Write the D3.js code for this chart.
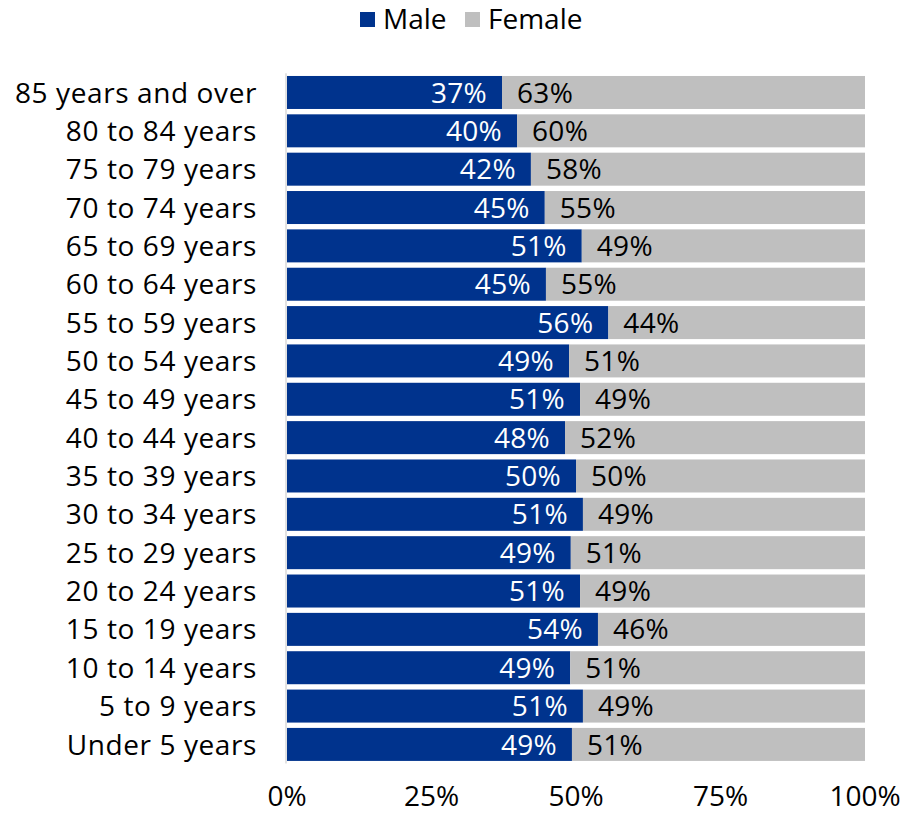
<!DOCTYPE html>
<html><head><meta charset="utf-8">
<script src="https://cdn.jsdelivr.net/npm/d3@7"></script>
<style>
body{margin:0;background:#fff;}
svg text{font-family:"Open Sans",sans-serif;}
</style></head>
<body><svg id="c" width="904" height="814"></svg>
<script>
const categories = ["85 years and over","80 to 84 years","75 to 79 years","70 to 74 years","65 to 69 years","60 to 64 years","55 to 59 years","50 to 54 years","45 to 49 years","40 to 44 years","35 to 39 years","30 to 34 years","25 to 29 years","20 to 24 years","15 to 19 years","10 to 14 years","5 to 9 years","Under 5 years"];
const male = [37.2,39.8,42.2,44.6,51.0,44.8,55.6,48.8,50.7,48.1,50.0,51.2,49.1,50.7,53.8,49.0,51.2,49.3];
const female = male.map(m => 100 - m);
const maleLabels = ["37%","40%","42%","45%","51%","45%","56%","49%","51%","48%","50%","51%","49%","51%","54%","49%","51%","49%"];
const femaleLabels = ["63%","60%","58%","55%","49%","55%","44%","51%","49%","52%","50%","49%","51%","49%","46%","51%","49%","51%"];
const ticks = [0,25,50,75,100];
const tickLabels = ["0%","25%","50%","75%","100%"];
const seriesNames = ["Male","Female"];
const colors = ["#00338d","#bfbfbf"];

const svg = d3.select("#c");
const FS = 28;
const x = d3.scaleLinear().domain([0,100]).range([287,865]);
const y = d3.scaleBand().domain(categories).range([73.3,763.6]).paddingInner(0.1395).paddingOuter(0.0698);

// axis line
svg.append("line").attr("x1",286).attr("x2",286).attr("y1",y.range()[0]).attr("y2",y.range()[1]).attr("stroke","#d9d9d9").attr("stroke-width",1.5);

const g = svg.append("g");
categories.forEach((c,i)=>{
  g.append("rect").attr("x",x(0)).attr("y",y(c)).attr("width",x(male[i])-x(0)).attr("height",y.bandwidth()).attr("fill",colors[0]);
  g.append("rect").attr("x",x(male[i])).attr("y",y(c)).attr("width",x(100)-x(male[i])).attr("height",y.bandwidth()).attr("fill",colors[1]);
  const cy = y(c)+y.bandwidth()/2;
  g.append("text").attr("x",x(male[i])-15).attr("y",cy).attr("dy","0.36em").attr("text-anchor","end").attr("fill","#fff").attr("font-size",FS).attr("letter-spacing","0.3px").text(maleLabels[i]);
  g.append("text").attr("x",x(male[i])+15).attr("y",cy).attr("dy","0.36em").attr("text-anchor","start").attr("fill","#000").attr("font-size",FS).attr("letter-spacing","0.3px").text(femaleLabels[i]);
  g.append("text").attr("x",257).attr("y",cy).attr("dy","0.36em").attr("text-anchor","end").attr("fill","#000").attr("font-size",FS).attr("letter-spacing","0.6px").text(c);
});

ticks.forEach((t,i)=>{
  svg.append("text").attr("x",x(t)).attr("y",806).attr("text-anchor","middle").attr("fill","#000").attr("font-size",FS).text(tickLabels[i]);
});

// legend
const lg = svg.append("g");
const lx = [360,465];
seriesNames.forEach((s,i)=>{
  lg.append("rect").attr("x",lx[i]).attr("y",12).attr("width",15).attr("height",15).attr("fill",colors[i]);
  lg.append("text").attr("x",lx[i]+23).attr("y",29).attr("fill","#000").attr("font-size",FS).text(s);
});
</script></body></html>
